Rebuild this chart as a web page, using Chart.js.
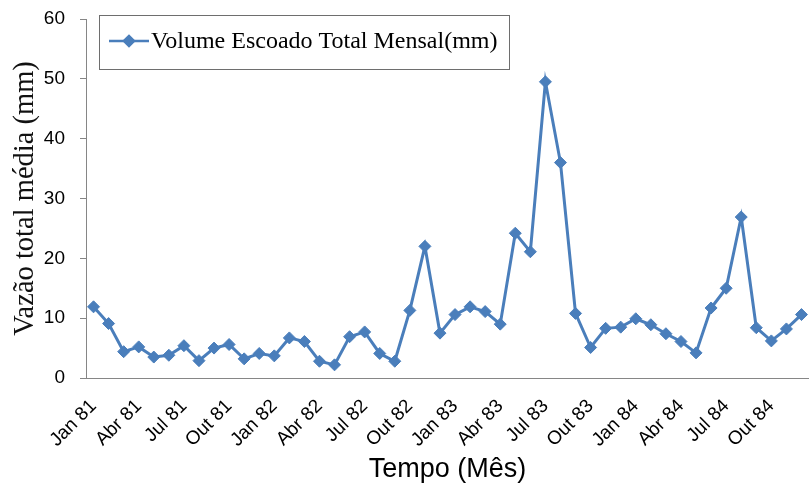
<!DOCTYPE html>
<html>
<head>
<meta charset="utf-8">
<script src="https://cdn.jsdelivr.net/npm/chart.js@4.4.0/dist/chart.umd.min.js"></script>
<style>
  html, body { margin: 0; padding: 0; background: #fff; }
  #wrap { width: 809px; height: 493px; }
</style>
</head>
<body>
<div id="wrap"><canvas id="chart" width="809" height="493"></canvas></div>
<script>
// --- DONNEES ---
const months = [
    'Jan 81', 'Fev 81', 'Mar 81', 'Abr 81', 'Mai 81', 'Jun 81', 'Jul 81', 'Ago 81', 'Set 81', 'Out 81', 'Nov 81', 'Dez 81',
    'Jan 82', 'Fev 82', 'Mar 82', 'Abr 82', 'Mai 82', 'Jun 82', 'Jul 82', 'Ago 82', 'Set 82', 'Out 82', 'Nov 82', 'Dez 82',
    'Jan 83', 'Fev 83', 'Mar 83', 'Abr 83', 'Mai 83', 'Jun 83', 'Jul 83', 'Ago 83', 'Set 83', 'Out 83', 'Nov 83', 'Dez 83',
    'Jan 84', 'Fev 84', 'Mar 84', 'Abr 84', 'Mai 84', 'Jun 84', 'Jul 84', 'Ago 84', 'Set 84', 'Out 84', 'Nov 84', 'Dez 84'
];
const volumeMensal = [
    11.9, 9.1, 4.4, 5.2, 3.5, 3.8, 5.4, 2.9, 5.0, 5.6, 3.2, 4.1,
    3.7, 6.7, 6.1, 2.8, 2.2, 6.9, 7.7, 4.1, 2.8, 11.3, 22.0, 7.5,
    10.6, 11.9, 11.1, 9.0, 24.2, 21.1, 49.5, 36.0, 10.8, 5.1, 8.3, 8.5,
    9.9, 8.9, 7.4, 6.1, 4.2, 11.7, 15.0, 26.9, 8.4, 6.2, 8.2, 10.6
];
const seriesLabel = 'Volume Escoado Total Mensal(mm)';
const yTicks = [0, 10, 20, 30, 40, 50, 60];
const xTitle = 'Tempo (Mês)';
const yTitle = 'Vazão total média (mm)';

const lineColor = '#4a7ebb';
const axisColor = '#868686';

// Legende encadree dans la zone du graphique
const boxLegend = {
    id: 'boxLegend',
    afterDraw(chart) {
        const ctx = chart.ctx;
        const ds = chart.data.datasets[0];
        ctx.save();
        ctx.fillStyle = '#fff';
        ctx.strokeStyle = '#6e6e6e';
        ctx.lineWidth = 1;
        ctx.fillRect(99.5, 15.5, 410, 54);
        ctx.strokeRect(99.5, 15.5, 410, 54);

        ctx.strokeStyle = lineColor;
        ctx.lineWidth = 2.5;
        ctx.beginPath();
        ctx.moveTo(109, 41);
        ctx.lineTo(149, 41);
        ctx.stroke();
        Chart.helpers.drawPoint(ctx, { pointStyle: 'rectRot', radius: 5, borderWidth: 1 }, 129, 41);
        ctx.fillStyle = lineColor;
        ctx.fill();

        ctx.fillStyle = '#000';
        ctx.font = '24px "Liberation Serif", "Times New Roman", serif';
        ctx.textBaseline = 'middle';
        ctx.textAlign = 'left';
        ctx.fillText(ds.label, 151, 42);
        ctx.restore();
    }
};

new Chart(document.getElementById('chart'), {
    type: 'line',
    data: {
        labels: months,
        datasets: [{
            label: seriesLabel,
            data: volumeMensal,
            borderColor: lineColor,
            backgroundColor: lineColor,
            borderWidth: 3,
            pointStyle: 'rectRot',
            pointRadius: 6,
            pointBorderWidth: 1,
            tension: 0,
            clip: false
        }]
    },
    options: {
        responsive: false,
        animation: false,
        layout: { autoPadding: false, padding: { top: 19, right: 0, bottom: 0, left: 0 } },
        plugins: {
            legend: { display: false },
            tooltip: { enabled: false }
        },
        scales: {
            x: {
                offset: true,
                grid: { display: false, drawTicks: false, offset: true },
                border: { display: true, color: axisColor, width: 1 },
                ticks: {
                    autoSkip: false,
                    maxRotation: 45,
                    minRotation: 45,
                    padding: 17,
                    color: '#000',
                    font: { family: '"Liberation Sans", Arial, sans-serif', size: 19 },
                    callback: (val, i) => (i % 3 === 0 ? months[i] : '')
                },
                title: {
                    display: true,
                    text: xTitle,
                    color: '#000',
                    font: { family: '"Liberation Sans", Arial, sans-serif', size: 27, lineHeight: 1.2 },
                    padding: { top: 0, bottom: 7 }
                },
                afterFit: (scale) => {
                    scale.height = 115;
                    scale.paddingRight = 0;
                }
            },
            y: {
                min: 0,
                max: 60,
                afterBuildTicks: (scale) => { scale.ticks = yTicks.map(v => ({ value: v })); },
                grid: { drawOnChartArea: false, drawTicks: true, tickLength: 6, color: axisColor },
                border: { display: true, color: axisColor, width: 1 },
                ticks: {
                    padding: 15,
                    color: '#000',
                    font: { family: '"Liberation Sans", Arial, sans-serif', size: 19 }
                },
                title: {
                    display: true,
                    text: yTitle,
                    color: '#111',
                    font: { family: '"Liberation Serif", "Times New Roman", serif', size: 28.5, lineHeight: 1.2 },
                    padding: { top: 8, bottom: 0 }
                },
                afterFit: (scale) => {
                    scale.width = 86;
                    scale.paddingTop = 0;
                    scale.paddingBottom = 0;
                }
            }
        }
    },
    plugins: [boxLegend]
});
</script>
</body>
</html>
